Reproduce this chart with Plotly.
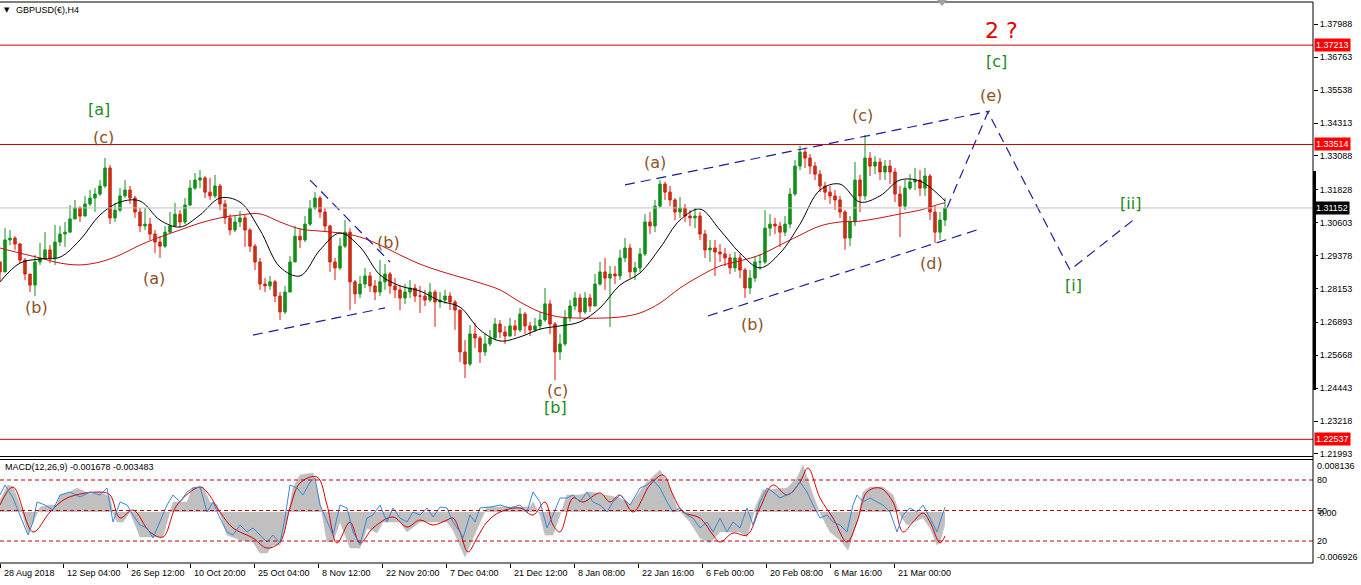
import plotly.graph_objects as go

# ---------------- data ----------------
closes = [
    1.2877, 1.2996, 1.3003, 1.2981, 1.2921, 1.2869, 1.2828, 1.2914, 1.2929, 1.2959,
    1.2929, 1.2988, 1.3018, 1.3025, 1.3074, 1.3115, 1.3085, 1.3130, 1.3152, 1.3167,
    1.3197, 1.3264, 1.3078, 1.3107, 1.3160, 1.3182, 1.3152, 1.3100, 1.3048, 1.3055,
    1.3018, 1.2988, 1.2973, 1.3025, 1.3048, 1.3092, 1.3063, 1.3126, 1.3189, 1.3219,
    1.3227, 1.3174, 1.3160, 1.3197, 1.3130, 1.3078, 1.3033, 1.3063, 1.3078, 1.3033,
    1.2973, 1.2914, 1.2832, 1.2825, 1.2840, 1.2787, 1.2728, 1.2802, 1.2914, 1.3010,
    1.2996, 1.3055, 1.3115, 1.3152, 1.3100, 1.3048, 1.2914, 1.2892, 1.2973, 1.3025,
    1.2840, 1.2795, 1.2832, 1.2862, 1.2825, 1.2802, 1.2840, 1.2869, 1.2825, 1.2810,
    1.2780, 1.2802, 1.2817, 1.2787, 1.2787, 1.2772, 1.2802, 1.2765, 1.2772, 1.2787,
    1.2765, 1.2735, 1.2579, 1.2534, 1.2646, 1.2631, 1.2579, 1.2609, 1.2631, 1.2683,
    1.2653, 1.2638, 1.2676, 1.2661, 1.2720, 1.2676, 1.2661, 1.2676, 1.2698, 1.2758,
    1.2683, 1.2579, 1.2609, 1.2706, 1.2750, 1.2780, 1.2728, 1.2780, 1.2750, 1.2832,
    1.2877, 1.2854, 1.2869, 1.2862, 1.2929, 1.2966, 1.2877, 1.2892, 1.2944, 1.3063,
    1.3048, 1.3122, 1.3204, 1.3174, 1.3145, 1.3100, 1.3115, 1.3085, 1.3078, 1.3085,
    1.3018, 1.2959, 1.2966, 1.2951, 1.2944, 1.2929, 1.2892, 1.2929, 1.2884, 1.2817,
    1.2854, 1.2914, 1.2914, 1.3040, 1.3055, 1.3048, 1.3025, 1.3055, 1.3167, 1.3271,
    1.3323, 1.3301, 1.3271, 1.3241, 1.3197, 1.3174, 1.3160, 1.3145, 1.3100, 1.3003,
    1.3063, 1.3219, 1.3160, 1.3301, 1.3271, 1.3286, 1.3249, 1.3271, 1.3249, 1.3167,
    1.3122, 1.3189, 1.3212, 1.3219, 1.3189, 1.3234, 1.3100, 1.3025, 1.3070, 1.3115,
]
highs = [
    1.2914, 1.3040, 1.3033, 1.3010, 1.2985, 1.2929, 1.2869, 1.2940, 1.2985, 1.3025,
    1.2977, 1.3052, 1.3048, 1.3063, 1.3126, 1.3145, 1.3122, 1.3160, 1.3182, 1.3189,
    1.3219, 1.3301, 1.3275, 1.3134, 1.3189, 1.3219, 1.3197, 1.3160, 1.3115, 1.3115,
    1.3078, 1.3033, 1.3010, 1.3048, 1.3100, 1.3134, 1.3107, 1.3152, 1.3219, 1.3245,
    1.3256, 1.3234, 1.3227, 1.3238, 1.3204, 1.3145, 1.3092, 1.3085, 1.3104, 1.3089,
    1.3040, 1.2981, 1.2929, 1.2854, 1.2862, 1.2847, 1.2802, 1.2825, 1.2936, 1.3048,
    1.3040, 1.3085, 1.3145, 1.3174, 1.3160, 1.3115, 1.3052, 1.2929, 1.3003, 1.3070,
    1.3040, 1.2847, 1.2862, 1.2892, 1.2877, 1.2847, 1.2921, 1.2907, 1.2877, 1.2854,
    1.2825, 1.2832, 1.2847, 1.2832, 1.2825, 1.2810, 1.2836, 1.2810, 1.2802, 1.2810,
    1.2802, 1.2772, 1.2698, 1.2623, 1.2679, 1.2687, 1.2638, 1.2646, 1.2661, 1.2706,
    1.2698, 1.2676, 1.2706, 1.2698, 1.2743, 1.2728, 1.2691, 1.2706, 1.2728, 1.2817,
    1.2772, 1.2691, 1.2646, 1.2735, 1.2772, 1.2802, 1.2795, 1.2802, 1.2795, 1.2869,
    1.2914, 1.2929, 1.2899, 1.2899, 1.2959, 1.3003, 1.2981, 1.2914, 1.2966, 1.3092,
    1.3100, 1.3145, 1.3219, 1.3212, 1.3197, 1.3152, 1.3156, 1.3130, 1.3107, 1.3115,
    1.3100, 1.3033, 1.2996, 1.2996, 1.2981, 1.2966, 1.2944, 1.2951, 1.2944, 1.2892,
    1.2884, 1.2936, 1.2944, 1.3107, 1.3092, 1.3078, 1.3063, 1.3085, 1.3189, 1.3294,
    1.3346, 1.3338, 1.3316, 1.3286, 1.3256, 1.3212, 1.3197, 1.3182, 1.3160, 1.3107,
    1.3085, 1.3286, 1.3238, 1.3387, 1.3323, 1.3308, 1.3301, 1.3294, 1.3294, 1.3264,
    1.3197, 1.3219, 1.3241, 1.3264, 1.3256, 1.3264, 1.3241, 1.3122, 1.3100, 1.3152,
]
lows = [
    1.2840, 1.2892, 1.2977, 1.2959, 1.2910, 1.2847, 1.2802, 1.2787, 1.2903, 1.2929,
    1.2910, 1.2903, 1.2973, 1.2970, 1.3033, 1.3085, 1.3063, 1.3092, 1.3122, 1.3100,
    1.3160, 1.3189, 1.3055, 1.3063, 1.3100, 1.3152, 1.3130, 1.3078, 1.3025, 1.3033,
    1.2996, 1.2947, 1.2929, 1.2966, 1.3025, 1.3063, 1.3044, 1.3055, 1.3122, 1.3182,
    1.3189, 1.3152, 1.3145, 1.3152, 1.3107, 1.3055, 1.3014, 1.3025, 1.3044, 1.2970,
    1.2951, 1.2884, 1.2810, 1.2802, 1.2810, 1.2765, 1.2698, 1.2720, 1.2802, 1.2959,
    1.2966, 1.2988, 1.3048, 1.3107, 1.3078, 1.3025, 1.2877, 1.2847, 1.2884, 1.2966,
    1.2735, 1.2758, 1.2780, 1.2817, 1.2802, 1.2772, 1.2787, 1.2810, 1.2795, 1.2780,
    1.2735, 1.2758, 1.2780, 1.2765, 1.2724, 1.2750, 1.2765, 1.2672, 1.2743, 1.2758,
    1.2735, 1.2661, 1.2542, 1.2482, 1.2527, 1.2594, 1.2538, 1.2564, 1.2601, 1.2623,
    1.2631, 1.2609, 1.2646, 1.2638, 1.2653, 1.2646, 1.2638, 1.2653, 1.2661, 1.2691,
    1.2646, 1.2474, 1.2549, 1.2601, 1.2691, 1.2735, 1.2706, 1.2720, 1.2728, 1.2750,
    1.2825, 1.2810, 1.2672, 1.2832, 1.2847, 1.2914, 1.2854, 1.2847, 1.2877, 1.2936,
    1.3018, 1.3025, 1.3115, 1.3145, 1.3122, 1.3070, 1.3078, 1.3063, 1.3048, 1.3040,
    1.2996, 1.2929, 1.2914, 1.2862, 1.2914, 1.2899, 1.2869, 1.2877, 1.2854, 1.2780,
    1.2795, 1.2840, 1.2884, 1.2907, 1.3010, 1.3018, 1.2970, 1.3010, 1.3040, 1.3160,
    1.3256, 1.3264, 1.3241, 1.3219, 1.3174, 1.3145, 1.3130, 1.3107, 1.3078, 1.2959,
    1.2973, 1.3048, 1.3100, 1.3145, 1.3234, 1.3241, 1.3219, 1.3219, 1.3204, 1.3137,
    1.3007, 1.3107, 1.3182, 1.3182, 1.3160, 1.3160, 1.3070, 1.2985, 1.2996, 1.3048,
]
first_open = 1.2914

# moving averages, one reading every 4 bars plus the last bar
ma_fast = [1.2840, 1.2910, 1.2925, 1.2932, 1.2996, 1.3089, 1.3137, 1.3141, 1.3070, 1.3044,
           1.3089, 1.3152, 1.3137, 1.3033, 1.2895, 1.2862, 1.2959, 1.3022, 1.2970, 1.2866,
           1.2825, 1.2806, 1.2769, 1.2746, 1.2661, 1.2620, 1.2635, 1.2664, 1.2676, 1.2691,
           1.2743, 1.2828, 1.2873, 1.2966, 1.3070, 1.3111, 1.3033, 1.2947, 1.2892, 1.2947,
           1.3055, 1.3182, 1.3204, 1.3137, 1.3160, 1.3219, 1.3215, 1.3160, 1.3141]
ma_slow = [1.2966, 1.2947, 1.2929, 1.2910, 1.2903, 1.2914, 1.2940, 1.2977, 1.3007, 1.3033,
           1.3059, 1.3078, 1.3089, 1.3093, 1.3063, 1.3037, 1.3029, 1.3022, 1.3007, 1.2977,
           1.2940, 1.2906, 1.2880, 1.2858, 1.2836, 1.2810, 1.2765, 1.2728, 1.2709, 1.2705,
           1.2705, 1.2709, 1.2724, 1.2761, 1.2817, 1.2862, 1.2899, 1.2918, 1.2940, 1.2977,
           1.3014, 1.3048, 1.3063, 1.3066, 1.3078, 1.3093, 1.3107, 1.3130, 1.3134]

# MACD histogram (main)
hist_bars = [0, 1.6, 2.6, 4, 5.6, 6.6, 8, 10, 11.4, 12, 14, 15.4, 18, 20, 22, 22.6, 23.4, 24.6, 26,
             28, 30, 32.6, 33.4, 34.6, 37.4, 38.6, 40.6, 42, 43.4, 44, 45.4, 48, 50.6, 52, 53.4,
             54.6, 56, 57.4, 58.6, 60, 62.6, 64, 65.4, 66.6, 68, 70, 72, 73.4, 75.4, 76.6, 80,
             81.4, 84, 89.4, 90.6, 93, 94.6, 96, 97.4, 106, 106.6, 108, 109, 110.6, 112, 113.4,
             116, 118, 124, 126, 129.4, 132, 134, 135.4, 138, 140, 142, 144, 148, 149.4, 151,
             152.6, 157.4, 159.4, 160.6, 162.6, 164, 166, 168, 169.6, 171.4, 172.6, 174, 176.6,
             178.6, 180, 181.4, 184.6, 186, 187.4, 188, 189]
hist_vals = [0.00174, 0.00392, 0.00363, 0.00102, -0.00305, -0.00145, 0.00073, 0.00102, 0.00102,
             0.00247, 0.00290, 0.00348, 0.00261, 0.00290, 0.00218, -0.00015, -0.00145, -0.00145, 0.0,
             -0.00363, -0.00363, -0.00363, -0.00145, 0.00145, 0.00145, 0.00363, 0.00363, 0.00145,
             0.00102, -0.00015, -0.00334, -0.00406, -0.00435, -0.00595, -0.00595, -0.00479, -0.00479,
             -0.00116, 0.00348, 0.00537, 0.00566, 0.00145, -0.00435, -0.00435, -0.00145, -0.00522,
             -0.00522, -0.00232, -0.00305, -0.00145, -0.00145, -0.00290, -0.00145, -0.00145, -0.00261,
             -0.00653, -0.00377, -0.00145, 0.00073, 0.00073, 0.00145, -0.00044, -0.00334, -0.00334,
             -0.00044, 0.00247, 0.00247, 0.00290, 0.00203, 0.00102, 0.00435, 0.00609, 0.00348,
             0.00058, -0.00145, -0.00377, -0.00450, -0.00290, -0.00290, -0.00363, 0.00058, 0.00319,
             0.00348, 0.00493, 0.00682, 0.00247, -0.00015, -0.00290, -0.00406, -0.00551, -0.00145,
             0.00290, 0.00363, 0.00363, 0.00247, -0.00044, -0.00189, -0.00087, -0.00232, -0.00479,
             -0.00435, -0.001678]

# MACD signal line
sig_bars = [0, 2.6, 6.6, 10, 13.4, 20, 22, 24, 26.6, 30, 32.6, 35.4, 40, 41.4, 44, 46.6, 50.6,
            53.4, 56, 58, 60, 63.4, 65.4, 67.4, 70, 72, 74.6, 78.6, 81.4, 84, 86.6, 89.4, 90.6,
            92, 93.6, 95.4, 97.4, 100, 104, 106.6, 109, 110.6, 112, 114.6, 116.6, 120, 122, 124,
            126.6, 130, 132.6, 134.6, 136.6, 140, 142.6, 144, 146.6, 149.4, 152, 154.6, 157.4,
            160, 161.6, 164, 166.6, 169.4, 171.4, 173.4, 176, 178.6, 180.6, 182.6, 184.6, 186,
            188, 189]
sig_vals = [0.00102, 0.00363, -0.00290, 0.0, 0.00203, 0.00290, 0.00247, -0.00087, 0.00029,
            -0.00290, -0.00363, 0.00102, 0.00363, 0.00290, 0.0, -0.00232, -0.00377, -0.00522,
            -0.00435, 0.00058, 0.00421, 0.00508, 0.00102, -0.00450, -0.00145, -0.00450, -0.00232,
            -0.00073, -0.00218, -0.00116, -0.00189, -0.00116, -0.00087, -0.00290, -0.00580,
            -0.00377, -0.00145, 0.0, 0.00058, -0.00044, 0.00145, -0.00189, -0.00290, 0.00203,
            0.00145, 0.00276, 0.00145, 0.00247, 0.0, 0.00392, 0.00537, 0.00247, 0.0, -0.00087,
            -0.00334, -0.00435, -0.00305, -0.00334, 0.00058, 0.00392, 0.00247, 0.00435, 0.00638,
            0.00203, -0.00087, -0.00435, -0.00145, 0.00290, 0.00348, 0.00145, -0.00290, -0.00145,
            -0.00015, -0.00145, -0.00450, -0.003483]

# oscillator (0-100) drawn in the MACD window
osc_bars = [0, 1, 2.6, 4, 5.6, 6.6, 7.4, 9, 10.6, 12, 14, 16, 18, 20, 21.4, 22.6, 24, 25.4, 26.6,
            28, 29.4, 30.6, 32, 33.4, 34.6, 36, 37.4, 38.6, 40, 41.4, 42.6, 44, 45.4, 46.6, 48,
            49.4, 50.6, 52, 53.4, 54.6, 56, 57, 58, 59.4, 60.6, 62, 63, 64, 65.4, 66.6, 68, 69.4,
            70.6, 72, 73.4, 74.6, 76, 77.4, 78.6, 80, 81.4, 82.6, 84, 85.4, 86.6, 88, 89.4, 90.6,
            92, 92.6, 94, 95, 96, 98, 100, 102, 104, 105.4, 106.6, 108, 109.4, 110.6, 112, 113.4,
            114.6, 116, 117.4, 118.6, 120, 121.4, 122.6, 124, 126, 128, 129.4, 130.6, 132, 133.4,
            134.6, 136, 137.4, 138.6, 140, 141.4, 142.6, 144, 145.4, 146.6, 148, 149.4, 150.6,
            152, 153.4, 154.6, 156, 157.4, 158.6, 160, 161.4, 162.6, 164, 165.4, 166.6, 168,
            169.4, 170.6, 171.4, 172.6, 174, 175.4, 176.6, 178, 179.4, 180.6, 182, 183.4, 184.6,
            186, 187.4, 188, 189]
osc_vals = [65.2, 75.1, 62.3, 45.6, 25.9, 38.7, 58.4, 55.4, 50.5, 65.2, 68.2, 63.3, 68.2, 65.2,
            72.1, 38.7, 58.4, 55.4, 45.6, 35.7, 32.8, 23.0, 38.7, 55.4, 65.2, 58.4, 68.2, 72.1,
            73.1, 48.5, 58.4, 42.6, 28.9, 25.9, 35.7, 28.9, 32.8, 25.9, 19.0, 25.9, 18.0, 42.6,
            75.1, 72.1, 65.2, 78.0, 82.0, 55.4, 38.7, 25.9, 55.4, 52.5, 28.9, 16.1, 42.6, 45.6,
            55.4, 38.7, 52.5, 42.6, 38.7, 48.5, 45.6, 52.5, 43.6, 53.4, 52.5, 38.7, 28.9, 23.0,
            45.6, 38.7, 52.5, 53.4, 55.4, 52.5, 55.4, 48.5, 68.2, 58.4, 32.8, 45.6, 62.3, 62.3,
            65.2, 58.4, 68.2, 58.4, 55.4, 48.5, 58.4, 65.2, 55.4, 72.1, 75.1, 80.0, 72.1, 58.4,
            48.5, 52.5, 45.6, 42.6, 32.8, 38.7, 28.9, 42.6, 28.9, 38.7, 32.8, 52.5, 35.7, 58.4,
            72.1, 68.2, 62.3, 65.2, 68.2, 78.0, 68.2, 55.4, 42.6, 45.6, 38.7, 35.7, 28.9, 55.4,
            65.2, 58.4, 62.3, 58.4, 55.4, 48.5, 28.9, 45.6, 52.5, 48.5, 55.4, 42.6, 28.9, 38.7,
            53.4]
osc_levels = [80, 50, 20]

date_bars = [0, 12.6, 25.4, 38, 50.8, 63.6, 76.4, 89.2, 102, 114.8, 127.6, 140.4, 153.2, 166, 178.8]
date_labels = ["28 Aug 2018", "12 Sep 04:00", "26 Sep 12:00", "10 Oct 20:00", "25 Oct 04:00",
               "8 Nov 12:00", "22 Nov 20:00", "7 Dec 04:00", "21 Dec 12:00", "8 Jan 08:00",
               "22 Jan 16:00", "6 Feb 00:00", "20 Feb 08:00", "6 Mar 16:00", "21 Mar 00:00"]

price_ticks = [1.37988, 1.36763, 1.35538, 1.34313, 1.33088, 1.31828, 1.30603,
               1.29378, 1.28153, 1.26893, 1.25668, 1.24443, 1.23218, 1.21993]
level_lines = [1.37213, 1.33514, 1.22537]
current_price = 1.31152
macd_main_last = -0.001678
macd_signal_last = -0.003483
macd_max_label = 0.008136
macd_min_label = -0.006926

# Elliott wave labels: text, bar, price, kind
wave_labels = [
    ("2 ?", 200.2, 1.3774, "red"),
    ("[c]", 199.2, 1.3662, "green"),
    ("(e)", 198.2, 1.3532, "brown"),
    ("[a]", 19.8, 1.3480, "green"),
    ("(c)", 20.6, 1.3376, "brown"),
    ("(a)", 30.8, 1.2851, "brown"),
    ("(b)", 7.2, 1.2743, "brown"),
    ("(b)", 77.6, 1.2985, "brown"),
    ("(a)", 131.0, 1.3286, "brown"),
    ("(c)", 172.4, 1.3461, "brown"),
    ("(b)", 150.4, 1.2683, "brown"),
    ("(d)", 186.2, 1.2910, "brown"),
    ("(c)", 111.4, 1.2437, "brown"),
    ("[b]", 111.0, 1.2374, "green"),
    ("[ii]", 226.0, 1.3130, "green"),
    ("[i]", 214.6, 1.2828, "green"),
]

# dashed trend / projection lines: (bars, prices)
trend_lines = [
    ([50.6, 77.0], [1.2642, 1.2743]),
    ([62.0, 78.0], [1.3219, 1.2914]),
    ([125.0, 198.0], [1.3201, 1.3476]),
    ([141.6, 196.0], [1.2713, 1.3037]),
    ([189.4, 197.6, 214.0, 227.2], [1.3115, 1.3472, 1.2884, 1.3078]),
]

# ---------------- figure ----------------
W, H = 1361, 585
ML, MR, MT, MB = 0, 48, 2, 22
PW, PH = W - ML - MR, H - MT - MB


def px_x(px):
    return px / PW


def px_y(py):
    return (H - MB - py) / PH


FONT = "Liberation Sans, Arial, sans-serif"
WFONT = "DejaVu Sans, Verdana, sans-serif"
colors = {"red": "#e00000", "green": "#1d8a1d", "brown": "#8a5226"}
sizes = {"red": 22, "green": 16, "brown": 16}

bars = list(range(len(closes)))
opens = [first_open] + closes[:-1]
ma_bars = list(range(0, 189, 4)) + [189]

fig = go.Figure()

fig.add_trace(go.Candlestick(
    x=bars, open=opens, high=highs, low=lows, close=closes,
    increasing=dict(line=dict(color="#11901a", width=1), fillcolor="#11901a"),
    decreasing=dict(line=dict(color="#e8150c", width=1), fillcolor="#a04a1c"),
    whiskerwidth=0, xaxis="x", yaxis="y", showlegend=False, hoverinfo="skip"))

fig.add_trace(go.Scatter(x=ma_bars, y=ma_slow, mode="lines", line=dict(color="#c81414", width=1),
                         line_shape="spline", xaxis="x", yaxis="y", showlegend=False, hoverinfo="skip"))
fig.add_trace(go.Scatter(x=ma_bars, y=ma_fast, mode="lines", line=dict(color="#000000", width=1),
                         line_shape="spline", xaxis="x", yaxis="y", showlegend=False, hoverinfo="skip"))

for bx, py in trend_lines:
    fig.add_trace(go.Scatter(x=bx, y=py, mode="lines",
                             line=dict(color="#1c1c9c", width=1.2, dash="10px,6px"),
                             xaxis="x", yaxis="y", showlegend=False, hoverinfo="skip"))

# MACD window
fig.add_trace(go.Scatter(x=hist_bars, y=hist_vals, mode="lines", fill="tozeroy",
                         fillcolor="#c0c0c0", line=dict(color="#b8b8b8", width=0.5),
                         xaxis="x2", yaxis="y2", showlegend=False, hoverinfo="skip"))
fig.add_trace(go.Scatter(x=sig_bars, y=sig_vals, mode="lines", line=dict(color="#d40000", width=1),
                         line_shape="spline", xaxis="x2", yaxis="y2", showlegend=False, hoverinfo="skip"))
fig.add_trace(go.Scatter(x=osc_bars, y=osc_vals, mode="lines", line=dict(color="#3a86d8", width=1),
                         xaxis="x2", yaxis="y3", showlegend=False, hoverinfo="skip"))

shapes = []
for lv in level_lines:
    shapes.append(dict(type="line", xref="paper", yref="y", x0=0, x1=1, y0=lv, y1=lv,
                       line=dict(color="#d00000", width=1)))
shapes.append(dict(type="line", xref="paper", yref="y", x0=0, x1=1, y0=current_price, y1=current_price,
                   line=dict(color="#c0c0c0", width=1)))
for lv in osc_levels:
    shapes.append(dict(type="line", xref="paper", yref="y3", x0=0, x1=1, y0=lv, y1=lv,
                       line=dict(color="#c00000", width=1, dash="4px,3px")))
for py in (2, 456.5, 459.5, 563):
    shapes.append(dict(type="line", xref="paper", yref="paper", x0=0, x1=1, y0=px_y(py), y1=px_y(py),
                       line=dict(color="#000000", width=1)))
shapes.append(dict(type="line", xref="paper", yref="paper", x0=1, x1=1, y0=px_y(2), y1=px_y(563),
                   line=dict(color="#000000", width=1)))
shapes.append(dict(type="line", xref="paper", yref="paper", x0=px_x(PW + 1.5), x1=px_x(PW + 1.5),
                   y0=px_y(171), y1=px_y(390), line=dict(color="#000000", width=3)))
shapes.append(dict(type="path", xref="paper", yref="paper",
                   path="M {} {} L {} {} L {} {} Z".format(px_x(937), px_y(0), px_x(947), px_y(0),
                                                           px_x(942), px_y(6)),
                   fillcolor="#a0a0a0", line=dict(width=0)))

ann = []
for txt, bx, pr, kind in wave_labels:
    ann.append(dict(text=txt, x=bx, y=pr, xref="x", yref="y", showarrow=False,
                    xanchor="center", yanchor="middle",
                    font=dict(family=WFONT, size=sizes[kind], color=colors[kind])))
for lbl, bx in zip(date_labels, date_bars):
    ann.append(dict(text=lbl, x=bx, y=px_y(573), xref="x2", yref="paper", xanchor="left",
                    yanchor="middle", xshift=2, showarrow=False,
                    font=dict(family=FONT, size=9, color="#000000")))
for lv in level_lines:
    ann.append(dict(text="{:.5f}".format(lv), x=1, y=lv, xref="paper", yref="y", xanchor="left",
                    yanchor="middle", xshift=1, showarrow=False, bgcolor="#ff0000", borderpad=1,
                    font=dict(family=FONT, size=9, color="#ffffff")))
ann.append(dict(text="{:.5f}".format(current_price), x=1, y=current_price, xref="paper", yref="y",
                xanchor="left", yanchor="middle", xshift=1, showarrow=False, bgcolor="#000000",
                borderpad=1, font=dict(family=FONT, size=9, color="#ffffff")))
ann.append(dict(text="{:.6f}".format(macd_max_label), x=1, y=px_y(466), xref="paper", yref="paper",
                xanchor="left", yanchor="middle", xshift=2, showarrow=False,
                font=dict(family=FONT, size=9, color="#000")))
ann.append(dict(text="{:.6f}".format(macd_min_label), x=1, y=px_y(557), xref="paper", yref="paper",
                xanchor="left", yanchor="middle", xshift=2, showarrow=False,
                font=dict(family=FONT, size=9, color="#000")))
ann.append(dict(text="0.00", x=1, y=0, xref="paper", yref="y2", xanchor="left", yanchor="middle",
                xshift=4, yshift=-1, showarrow=False, font=dict(family=FONT, size=9, color="#000")))
for lv in osc_levels:
    ann.append(dict(text=str(lv), x=1, y=lv, xref="paper", yref="y3", xanchor="left",
                    yanchor="middle", xshift=2, showarrow=False,
                    font=dict(family=FONT, size=9, color="#000")))
ann.append(dict(text="▼", x=px_x(2), y=px_y(10), xref="paper", yref="paper", xanchor="left",
                yanchor="middle", showarrow=False, font=dict(family=WFONT, size=7, color="#000")))
ann.append(dict(text="GBPUSD(€),H4", x=px_x(14), y=px_y(10), xref="paper", yref="paper",
                xanchor="left", yanchor="middle", showarrow=False,
                font=dict(family=FONT, size=9, color="#000")))
ann.append(dict(text="MACD(12,26,9) {:.6f} {:.6f}".format(macd_main_last, macd_signal_last),
                x=px_x(3), y=px_y(467), xref="paper", yref="paper", xanchor="left",
                yanchor="middle", showarrow=False, font=dict(family=FONT, size=9, color="#000")))

x_range = [0, PW / 5.0]
main_dom = [px_y(458), 1]
macd_dom = [0, px_y(459)]

fig.update_layout(
    width=W, height=H, autosize=False,
    margin=dict(l=ML, r=MR, t=MT, b=MB, pad=0),
    paper_bgcolor="#ffffff", plot_bgcolor="#ffffff",
    showlegend=False,
    xaxis=dict(domain=[0, 1], range=x_range, anchor="y", showgrid=False, zeroline=False,
               showticklabels=False, ticks="", rangeslider=dict(visible=False), fixedrange=True),
    yaxis=dict(domain=main_dom, range=[1.21842, 1.38819], side="right", anchor="x",
               showgrid=False, zeroline=False, tickvals=price_ticks,
               ticktext=["{:.5f}".format(t) for t in price_ticks],
               ticks="outside", ticklen=4, tickcolor="#000", tickwidth=1,
               tickfont=dict(family=FONT, size=9, color="#000")),
    xaxis2=dict(domain=[0, 1], range=x_range, anchor="y2", matches="x", showgrid=False,
                zeroline=False, showticklabels=False, tickvals=date_bars, ticks="outside",
                ticklen=4, tickcolor="#000"),
    yaxis2=dict(domain=macd_dom, range=[-0.007395, 0.007685], side="right", anchor="x2",
                showgrid=False, zeroline=False, showticklabels=False),
    yaxis3=dict(overlaying="y2", range=[-1.64, 100.65], side="right", anchor="x2",
                showgrid=False, zeroline=False, showticklabels=False),
    shapes=shapes, annotations=ann,
)

fig.write_html("out.html", config={"displayModeBar": False},
               post_script="document.body.style.margin='0px';")
